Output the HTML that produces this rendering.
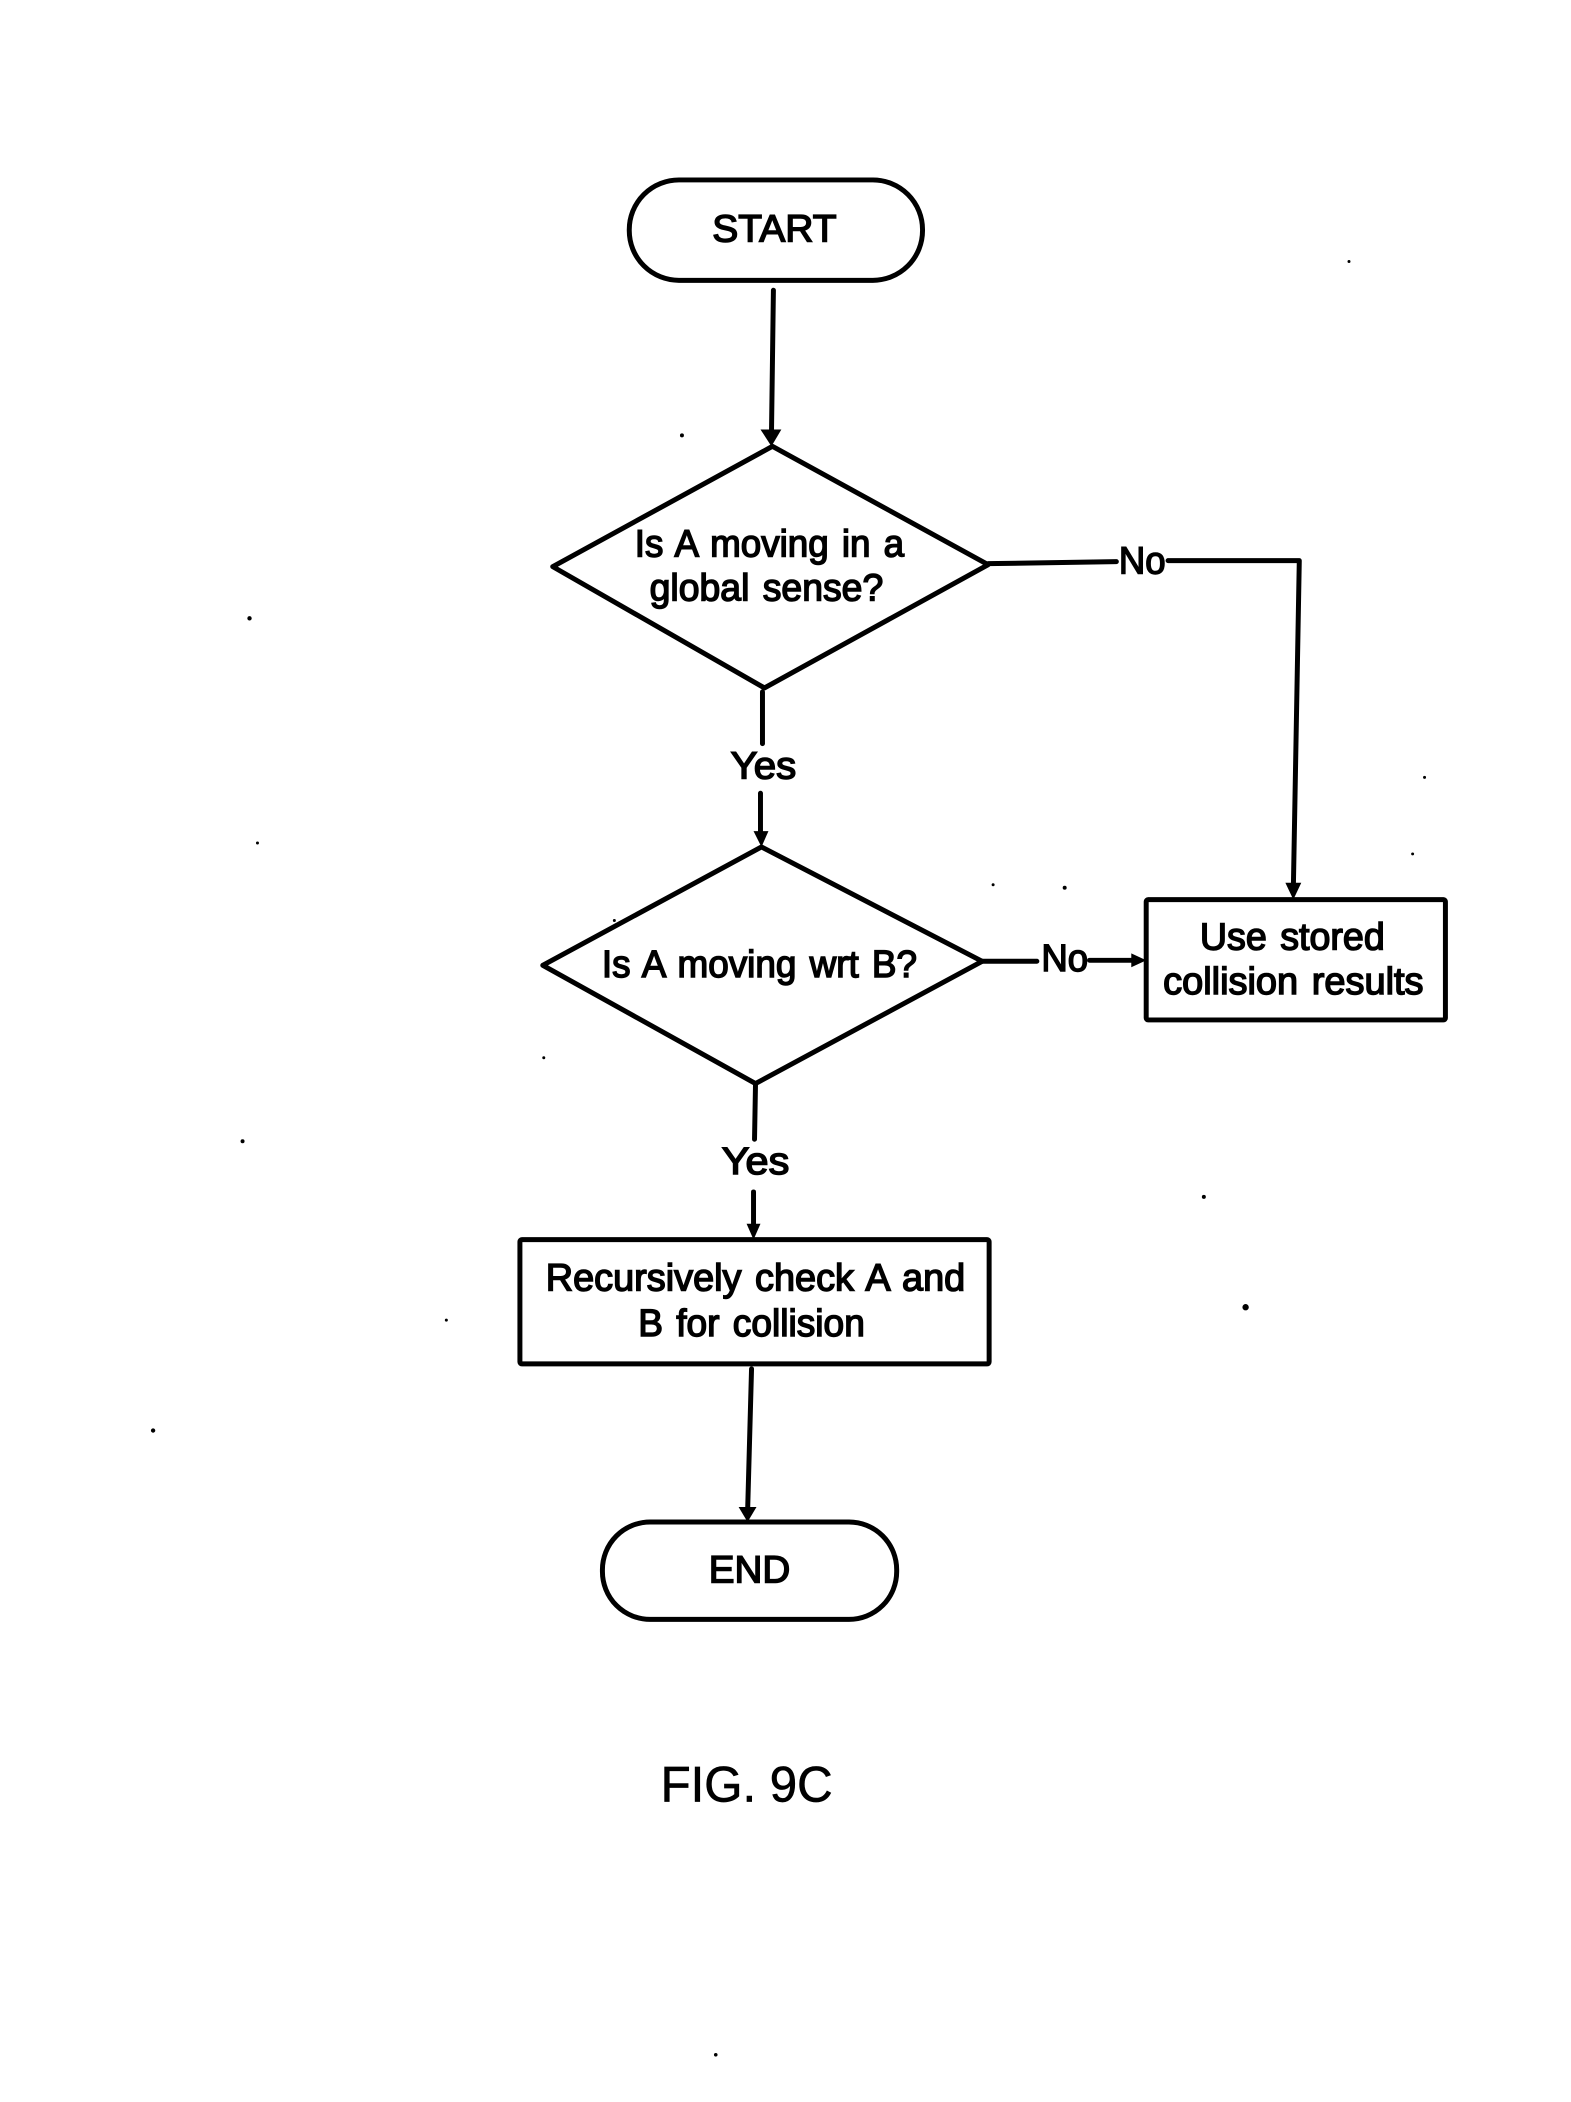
<!DOCTYPE html>
<html><head><meta charset="utf-8"><style>
html,body{margin:0;padding:0;background:#fff;width:1571px;height:2102px;overflow:hidden}
svg{display:block}
text{font-family:"Liberation Sans",sans-serif;font-size:38px;fill:#000;stroke:#000;stroke-width:1.5px;text-anchor:middle;word-spacing:3px}
.s{fill:none;stroke:#000;stroke-width:5;stroke-linejoin:round;stroke-linecap:round}
</style></head><body>
<svg width="1571" height="2102" viewBox="0 0 1571 2102" xmlns="http://www.w3.org/2000/svg">
<rect width="1571" height="2102" fill="#fff"/>
<g transform="scale(0.9941)">
<!-- shapes -->
<rect class="s" x="633" y="181" width="295" height="101" rx="50" ry="50"/>
<polygon class="s" points="777,449 994,568 769,692 556,570"/>
<polygon class="s" points="766,852 988,967 760,1090 546,971"/>
<rect class="s" x="1153" y="905" width="301" height="121" rx="2"/>
<rect class="s" x="523" y="1247" width="472" height="125" rx="2"/>
<rect class="s" x="606" y="1531" width="296" height="98" rx="48" ry="48"/>
<!-- connectors -->
<path class="s" d="M778,292 L776,440"/>
<path d="M765,432 L786,432 L776,449 Z"/>
<path class="s" d="M767,696 L767,748"/>
<path class="s" d="M765,798 L765,842"/>
<path d="M758,836 L773,836 L766,852 Z"/>
<path class="s" d="M994,567 L1123,565"/>
<path class="s" d="M1175,564 L1307,564 L1301,895"/>
<path d="M1293,888 L1309,888 L1301,905 Z"/>
<path class="s" d="M988,967 L1043,967"/>
<path class="s" d="M1096,966 L1145,966"/>
<path d="M1138,959 L1153,966 L1138,973 Z"/>
<path class="s" d="M760,1090 L759,1146"/>
<path class="s" d="M758,1199 L758,1237"/>
<path d="M751,1231 L765,1231 L758,1247 Z"/>
<path class="s" d="M756,1377 L752,1522"/>
<path d="M743,1516 L761,1516 L752,1531 Z"/>
<!-- labels -->
<text x="779" y="243" textLength="125" lengthAdjust="spacingAndGlyphs">START</text>
<text x="774" y="560" textLength="271" lengthAdjust="spacingAndGlyphs">Is A moving in a</text>
<text x="771" y="604" textLength="235" lengthAdjust="spacingAndGlyphs">global sense?</text>
<text x="768" y="783" textLength="66" lengthAdjust="spacingAndGlyphs">Yes</text>
<text x="1149" y="577" textLength="47" lengthAdjust="spacingAndGlyphs">No</text>
<text x="764" y="983" textLength="317" lengthAdjust="spacingAndGlyphs">Is A moving wrt B?</text>
<text x="1071" y="977" textLength="47" lengthAdjust="spacingAndGlyphs">No</text>
<text x="1300" y="955" textLength="186" lengthAdjust="spacingAndGlyphs">Use stored</text>
<text x="1301" y="1000" textLength="262" lengthAdjust="spacingAndGlyphs">collision results</text>
<text x="760" y="1181" textLength="68" lengthAdjust="spacingAndGlyphs">Yes</text>
<text x="760" y="1298" textLength="422" lengthAdjust="spacingAndGlyphs">Recursively check A and</text>
<text x="756" y="1344" textLength="228" lengthAdjust="spacingAndGlyphs">B for collision</text>
<text x="754" y="1592" textLength="82" lengthAdjust="spacingAndGlyphs">END</text>
<text x="751" y="1812" style="font-size:50px;stroke-width:.7px;word-spacing:0" textLength="173" lengthAdjust="spacingAndGlyphs">FIG. 9C</text>
<!-- specks -->
<g fill="#000">
<circle cx="1357" cy="263" r="1.5"/><circle cx="686" cy="438" r="2"/><circle cx="251" cy="622" r="2.2"/>
<circle cx="259" cy="848" r="1.5"/><circle cx="1433" cy="782" r="1.5"/><circle cx="1421" cy="859" r="1.5"/>
<circle cx="999" cy="890" r="1.5"/><circle cx="1071" cy="893" r="2"/><circle cx="618" cy="926" r="1.5"/>
<circle cx="547" cy="1064" r="1.5"/><circle cx="244" cy="1148" r="2"/><circle cx="1211" cy="1204" r="2"/>
<circle cx="1253" cy="1315" r="3.2"/><circle cx="449" cy="1328" r="1.5"/><circle cx="154" cy="1439" r="2.2"/>
<circle cx="720" cy="2067" r="1.8"/>
</g>
</g>
</svg>
</body></html>
